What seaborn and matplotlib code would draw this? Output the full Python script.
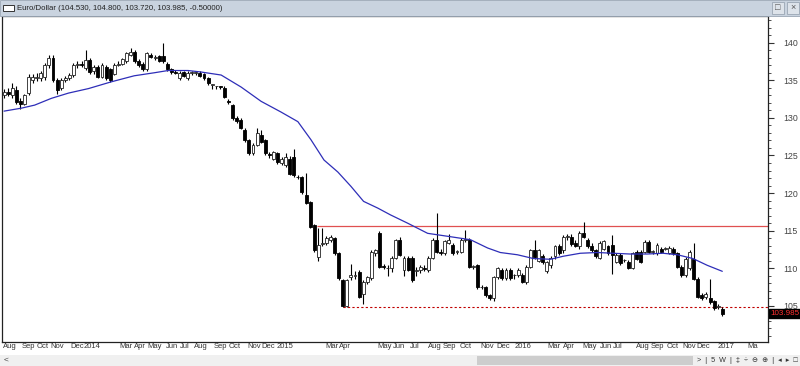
import matplotlib
matplotlib.use("Agg")
import matplotlib.pyplot as plt
import numpy as np
import pandas as pd
import seaborn as sns
from matplotlib.patches import Rectangle

# weekly candles (Euro/Dollar x100)
opens = [
    133.0, 133.4, 133.0, 133.7, 132.3, 131.9, 133.3, 135.0, 135.3, 135.3,
    135.4, 137.0, 138.0, 135.0, 134.0, 135.0, 135.3, 135.7, 137.0, 137.2,
    136.6, 137.7, 136.2, 136.8, 135.5, 136.8, 136.5, 135.9, 137.1, 137.2,
    137.5, 138.4, 138.8, 137.6, 137.2, 136.5, 138.3, 137.9, 138.2, 138.2,
    137.2, 136.5, 136.1, 135.3, 136.1, 135.3, 136.0, 136.0, 136.0, 135.8,
    135.3, 134.4, 134.2, 134.2, 134.0, 132.3, 131.7, 130.0, 129.7, 128.4,
    127.0, 125.3, 126.4, 127.7, 127.0, 125.2, 124.6, 125.3, 124.0, 123.7,
    124.6, 124.8, 122.2, 122.1, 119.7, 118.8, 115.7, 111.5, 113.2, 113.4,
    113.8, 114.0, 112.0, 108.4, 105.0, 108.8, 109.0, 109.5, 106.6, 108.2,
    108.7, 112.0, 114.7, 110.3, 110.0, 110.0, 111.4, 113.8, 109.8, 111.4,
    111.4, 109.6, 109.8, 110.1, 109.8, 111.4, 113.8, 112.2, 112.0, 113.4,
    113.1, 112.2, 112.2, 113.8, 113.8, 110.2, 110.4, 107.5, 107.5, 106.4,
    106.0, 108.8, 109.8, 108.7, 109.8, 109.1, 109.1, 109.1, 108.2, 110.2,
    112.4, 111.0, 111.6, 109.7, 110.4, 111.6, 112.9, 112.4, 114.2, 114.2,
    113.4, 112.9, 114.7, 113.7, 113.0, 112.4, 111.4, 112.6, 112.9, 113.1,
    110.9, 111.8, 111.1, 110.9, 110.1, 112.2, 112.2, 112.2, 113.5, 112.2,
    112.0, 112.6, 112.6, 112.1, 112.6, 112.0, 110.2, 109.1, 110.0, 111.3,
    108.6, 106.4, 106.2, 106.0, 105.6, 104.9, 104.53,
]
highs = [
    133.8, 134.0, 134.6, 134.2, 132.6, 133.2, 135.8, 135.8, 136.0, 136.3,
    137.3, 138.3, 138.3, 135.3, 135.3, 135.6, 136.0, 137.3, 137.5, 137.5,
    139.0, 138.0, 137.0, 137.0, 137.3, 137.0, 136.7, 137.3, 137.5, 138.0,
    138.8, 139.3, 139.0, 137.8, 137.4, 138.8, 138.6, 138.3, 138.4, 140.0,
    137.4, 136.7, 136.4, 136.2, 136.3, 136.2, 136.3, 136.3, 136.2, 136.0,
    135.5, 134.5, 134.3, 134.3, 134.2, 132.5, 131.9, 130.3, 130.0, 128.6,
    127.2, 126.6, 128.6, 128.4, 127.2, 125.4, 125.6, 125.5, 124.8, 125.3,
    124.9, 125.9, 122.4, 122.3, 122.7, 119.0, 115.9, 115.3, 115.3, 114.3,
    114.4, 114.2, 112.2, 108.6, 108.6, 110.6, 109.6, 109.8, 108.4, 109.0,
    112.4, 112.6, 114.9, 110.6, 110.5, 111.6, 113.9, 114.1, 111.6, 111.6,
    111.6, 110.2, 110.4, 110.5, 111.6, 114.0, 117.3, 112.6, 113.8, 114.6,
    113.3, 112.5, 114.0, 115.1, 114.0, 110.5, 110.6, 107.8, 107.7, 106.6,
    109.0, 110.2, 110.1, 110.0, 110.0, 109.3, 110.0, 109.4, 110.4, 112.6,
    113.8, 112.6, 111.9, 111.0, 111.6, 113.1, 113.2, 114.4, 114.6, 114.5,
    113.7, 114.9, 116.2, 114.0, 113.3, 112.6, 113.6, 113.8, 113.1, 114.4,
    112.0, 112.0, 111.3, 111.1, 112.2, 112.4, 112.4, 113.7, 113.7, 112.5,
    113.3, 112.8, 112.8, 112.9, 112.8, 112.2, 110.4, 111.5, 112.4, 113.3,
    108.8, 106.7, 106.8, 108.6, 105.8, 105.2, 104.8,
]
lows = [
    132.6, 132.9, 132.6, 131.9, 131.2, 131.7, 133.1, 134.7, 134.9, 134.9,
    135.1, 136.7, 134.8, 133.2, 133.7, 134.8, 135.1, 135.5, 136.7, 136.8,
    136.4, 135.9, 135.9, 135.3, 135.3, 135.0, 134.8, 135.7, 136.9, 137.0,
    137.3, 138.2, 137.3, 136.8, 136.3, 136.3, 137.9, 137.7, 137.4, 137.3,
    136.3, 135.9, 135.8, 135.1, 135.4, 135.1, 135.7, 135.7, 135.4, 135.1,
    134.4, 133.9, 133.9, 133.8, 132.6, 131.9, 129.7, 129.3, 128.5, 126.8,
    125.1, 125.0, 126.2, 126.6, 125.1, 124.7, 124.4, 123.9, 123.8, 123.5,
    122.4, 122.2, 121.9, 119.9, 118.5, 115.3, 112.2, 111.0, 113.0, 113.1,
    113.5, 111.8, 108.5, 104.85, 104.9, 108.5, 108.6, 106.0, 105.3, 107.9,
    108.5, 111.7, 110.0, 109.9, 109.0, 109.5, 111.2, 111.6, 109.0, 109.6,
    108.2, 109.0, 109.4, 109.6, 109.5, 111.2, 112.0, 111.8, 111.8, 113.2,
    111.8, 111.9, 112.0, 113.5, 110.0, 109.9, 107.3, 107.2, 106.2, 105.8,
    105.7, 108.6, 108.5, 108.4, 108.5, 108.6, 108.8, 108.0, 107.9, 110.0,
    111.3, 110.8, 110.6, 109.4, 110.0, 111.3, 111.8, 112.1, 113.8, 113.0,
    112.8, 112.6, 114.0, 112.7, 112.2, 111.4, 111.2, 112.4, 111.8, 109.3,
    110.7, 110.5, 110.8, 109.9, 109.9, 111.1, 110.7, 112.0, 112.0, 111.9,
    111.8, 112.0, 112.4, 111.9, 111.8, 110.0, 108.9, 108.9, 109.8, 108.4,
    106.0, 105.8, 105.9, 105.3, 104.5, 104.6, 103.72,
]
closes = [
    133.4, 133.2, 134.0, 132.1, 131.8, 133.0, 135.5, 135.4, 135.5, 136.0,
    137.0, 138.0, 135.0, 133.7, 135.0, 135.3, 135.7, 137.0, 137.2, 137.0,
    137.7, 136.1, 136.8, 135.5, 137.1, 135.3, 135.0, 137.1, 137.2, 137.8,
    138.6, 138.8, 137.5, 137.0, 136.5, 138.6, 138.1, 138.1, 137.6, 137.5,
    136.5, 136.1, 136.0, 136.0, 135.6, 136.0, 136.0, 136.1, 135.6, 135.3,
    134.6, 134.4, 134.2, 134.1, 132.8, 132.1, 130.0, 129.6, 128.7, 127.0,
    125.3, 126.4, 128.0, 126.8, 125.3, 125.0, 125.4, 124.1, 124.6, 124.8,
    122.6, 122.4, 122.1, 120.1, 118.7, 115.5, 112.4, 113.1, 113.4, 114.0,
    114.2, 112.0, 108.7, 105.0, 108.4, 109.1, 109.1, 106.2, 108.2, 108.8,
    112.2, 112.4, 110.2, 110.2, 110.1, 111.4, 113.8, 111.8, 111.4, 109.8,
    108.4, 109.8, 110.2, 109.9, 111.4, 113.8, 112.2, 112.0, 113.6, 113.8,
    112.0, 112.2, 113.8, 113.8, 110.2, 110.2, 107.5, 107.5, 106.4, 106.0,
    108.8, 110.0, 108.7, 109.8, 108.7, 109.1, 109.8, 108.2, 110.2, 112.4,
    111.5, 112.4, 110.8, 110.8, 111.4, 112.9, 112.0, 114.2, 114.2, 113.2,
    113.0, 114.7, 114.2, 112.9, 112.4, 111.6, 113.4, 113.6, 112.0, 111.8,
    111.8, 110.7, 111.1, 110.1, 112.0, 111.3, 110.9, 113.5, 112.2, 112.2,
    113.1, 112.2, 112.6, 112.7, 112.0, 110.2, 109.1, 111.3, 112.2, 108.6,
    106.2, 106.0, 106.6, 105.5, 104.7, 104.9, 103.985,
]

# moving average line (bar number, value)
ma_bar = [0, 4.3, 7.5, 11.6, 15.8, 20.7, 26.3, 31.9, 36.8, 40.2, 45.1, 48.3,
          53.2, 58.1, 63, 67.8, 72, 75.2, 78.4, 81.8, 85, 88.1, 91.6, 94.7,
          98.9, 103.8, 109.4, 114.3, 118.5, 121.6, 125.8, 129.7, 133.9, 137,
          141.2, 145.4, 149.3, 153.4, 157.6, 161.5, 165, 168.8, 172.3, 176]
ma_val = [130.9, 131.3, 131.7, 132.6, 133.3, 133.9, 134.8, 135.6, 136.0, 136.3,
          136.3, 136.1, 135.7, 134.1, 132.2, 130.8, 129.5, 127.1, 124.4, 122.8,
          120.9, 118.9, 118.0, 117.1, 116.0, 114.65, 114.2, 113.8, 112.7, 112.1,
          111.8, 111.3, 111.2, 111.6, 112.0, 112.1, 112.0, 111.9, 111.9, 112.0,
          111.8, 111.3, 110.4, 109.6]

resistance = 115.6
resistance_from = 76.7
support = 104.85
support_from = 83
last_close = 103.985
last_price = "103.985"

month_labels = ["Aug", "Sep", "Oct", "Nov", "Dec", "2014", "Mar", "Apr", "May",
                "Jun", "Jul", "Aug", "Sep", "Oct", "Nov", "Dec", "2015", "Mar",
                "Apr", "May", "Jun", "Jul", "Aug", "Sep", "Oct", "Nov", "Dec",
                "2016", "Mar", "Apr", "May", "Jun", "Jul", "Aug", "Sep", "Oct",
                "Nov", "Dec", "2017", "Ma"]
month_bars = [-0.5, 4.0, 7.7, 11.1, 15.8, 19.2, 27.8, 31.4, 34.8, 39.2, 42.7,
              46.1, 51.0, 54.6, 59.3, 62.7, 66.4, 78.4, 81.8, 91.1, 95.0, 99.1,
              103.5, 107.2, 111.4, 116.3, 120.4, 124.8, 132.9, 136.5, 141.4,
              145.6, 148.8, 154.6, 158.2, 162.0, 165.9, 169.4, 174.4, 181.8]

title = "Euro/Dollar (104.530, 104.800, 103.720, 103.985, -0.50000)"

df = pd.DataFrame({"open": opens, "high": highs, "low": lows, "close": closes})
df["bar"] = np.arange(len(df))
up = df[df["close"] >= df["open"]]
dn = df[df["close"] < df["open"]]

sns.set_style("white")
plt.rcParams["font.family"] = ["Liberation Sans", "DejaVu Sans"]

W, H = 800, 366
fig = plt.figure(figsize=(W / 100, H / 100), dpi=100)
fig.patch.set_facecolor("white")
ax = fig.add_axes([2 / W, 24 / H, 766 / W, 326 / H])

# candles
ax.vlines(df["bar"], df["low"], df["high"], color="black", lw=0.8, zorder=2)
ax.bar(up["bar"], (up["close"] - up["open"]).clip(lower=0.06), bottom=up["open"],
       width=0.72, color="white", edgecolor="#222222", lw=0.6, zorder=3)
ax.bar(dn["bar"], dn["open"] - dn["close"], bottom=dn["close"],
       width=0.72, color="black", edgecolor="black", lw=0.6, zorder=3)

# moving average
sns.lineplot(x=ma_bar, y=ma_val, ax=ax, color="#2e2eb8", lw=0.9, zorder=4)

xmax = 187.2
ax.hlines(resistance, resistance_from, xmax, color="#e05050", lw=0.9, zorder=1)
ax.hlines(support, support_from, xmax, color="#c00000", lw=0.8,
          linestyles=(0, (2, 2)), zorder=1)

ax.set_xlim(-0.12, xmax)
ax.set_ylim(100.2, 143.55)

# right price axis
ax.yaxis.tick_right()
ax.set_yticks(np.arange(105, 141, 5))
ax.set_yticks(np.arange(101, 144, 1), minor=True)
ax.tick_params(axis="y", which="major", direction="out", length=4, width=0.8,
               pad=7, labelsize=6.3, labelcolor="#444444", color="#333333")
ax.tick_params(axis="y", which="minor", direction="out", length=2.5,
               width=0.6, color="#333333")
ax.yaxis.set_tick_params(left=False, which="both")

# time axis: separators + left aligned labels
ax.set_xticks(month_bars)
ax.set_xticklabels([])
ax.tick_params(axis="x", direction="out", length=9, width=0.7, color="#555555")
for lab, pos in zip(month_labels, month_bars):
    ax.text(pos + 0.35, -0.004, lab, transform=ax.get_xaxis_transform(),
            ha="left", va="top", fontsize=5.5, color="#333333")

for side in ["left", "right", "bottom", "top"]:
    ax.spines[side].set_visible(True)
    ax.spines[side].set_color("#222222")
    ax.spines[side].set_linewidth(0.9)
ax.set_xlabel("")
ax.set_ylabel("")

# last price tag
ax.text(1.003, last_close, last_price,
        transform=ax.get_yaxis_transform(), ha="left", va="center",
        fontsize=5.8, color="#ff3030",
        bbox=dict(boxstyle="square,pad=0.15", fc="black", ec="black"))

# window title bar
fig.patches.append(Rectangle((0, 350 / H), 1, 16 / H, transform=fig.transFigure,
                             fc="#c9d3df", ec="#9aa6b4", lw=0.6, zorder=0))
fig.patches.append(Rectangle((3 / W, 355 / H), 11 / W, 6 / H,
                             transform=fig.transFigure, fc="white",
                             ec="#333333", lw=0.7))
fig.text(17 / W, 358 / H, title, fontsize=5.6, color="#222222",
         ha="left", va="center")
for bx, sym in [(772, "\u25a1"), (787, "\u00d7")]:
    fig.patches.append(Rectangle((bx / W, 352 / H), 12 / W, 12 / H,
                                 transform=fig.transFigure, fc="#dde3ea",
                                 ec="#9aa6b4", lw=0.6))
    fig.text((bx + 6) / W, 358 / H, sym, fontsize=6.5, color="#555555",
             ha="center", va="center")

# bottom scroll bar strip
fig.patches.append(Rectangle((0, 0), 1, 11 / H, transform=fig.transFigure,
                             fc="#f0f0f0", ec="none", zorder=0))
fig.patches.append(Rectangle((477 / W, 1 / H), 216 / W, 9 / H,
                             transform=fig.transFigure, fc="#cdcdcd", ec="none"))
fig.text(4 / W, 5.5 / H, "<", fontsize=6, color="#444444", va="center")
fig.text(697 / W, 5.5 / H, ">  |  5  W  |  \u2021  \u00f7  \u2296  \u2295  |  \u25c2  \u25b8  \u25a1",
         fontsize=5.2, color="#333333", va="center", ha="left")

fig.savefig("out.png", dpi=100)
